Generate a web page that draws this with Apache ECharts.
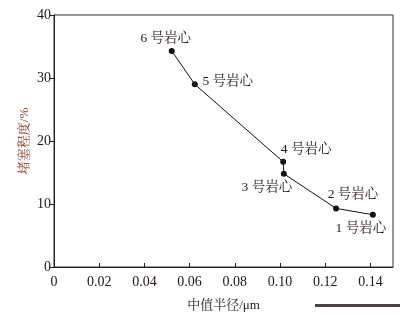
<!DOCTYPE html>
<html>
<head>
<meta charset="utf-8">
<script src="https://cdn.jsdelivr.net/npm/echarts@6/dist/echarts.min.js"></script>
<style>html,body{margin:0;padding:0;background:#fff;}#c{width:408px;height:317px;}</style>
</head>
<body>
<div id="c"></div>
<script>
var coreNames = ['1 号岩心', '2 号岩心', '3 号岩心', '4 号岩心', '5 号岩心', '6 号岩心'];
var medianRadius = [0.1411, 0.1248, 0.1017, 0.1014, 0.0623, 0.0521];
var blockage = [8.3, 9.3, 14.8, 16.7, 29.0, 34.3];
var xTicks = [0, 0.02, 0.04, 0.06, 0.08, 0.10, 0.12, 0.14];
var yTicks = [0, 10, 20, 30, 40];

var labelOffsets = {
  '1 号岩心': [-12, 14],
  '2 号岩心': [17, -14],
  '3 号岩心': [-17, 14],
  '4 号岩心': [23, -12],
  '5 号岩心': [33, -3],
  '6 号岩心': [-6, -12]
};

var FONT = "'Liberation Serif', 'Noto Serif CJK SC', 'Noto Sans CJK SC', serif";
var TXT = '#231815';

var data = medianRadius.map(function (x, i) {
  return {
    value: [x, blockage[i]],
    name: coreNames[i],
    label: { offset: labelOffsets[coreNames[i]] }
  };
});

var chart = echarts.init(document.getElementById('c'), null, { renderer: 'canvas' });
chart.setOption({
  animation: false,
  backgroundColor: '#fff',
  grid: { left: 54, top: 15, right: 15, bottom: 46, show: true, borderColor: '#333', borderWidth: 1, backgroundColor: 'transparent' },
  xAxis: {
    type: 'value', min: 0, max: 0.15, interval: 0.02,
    name: '中值半径/μm', nameLocation: 'middle', nameGap: 32, nameMoveOverlap: false,
    nameTextStyle: { fontFamily: FONT, fontSize: 13, color: TXT },
    axisLine: { show: true, lineStyle: { color: '#222', width: 1 } },
    axisTick: { show: true, inside: true, length: 4, lineStyle: { color: '#222' } },
    axisLabel: {
      fontFamily: FONT, fontSize: 14, color: TXT, margin: 8, showMaxLabel: false,
      formatter: function (v) {
        for (var i = 0; i < xTicks.length; i++) {
          if (Math.abs(v - xTicks[i]) < 1e-9) return xTicks[i] === 0 ? '0' : xTicks[i].toFixed(2);
        }
        return '';
      }
    },
    splitLine: { show: false }
  },
  yAxis: {
    type: 'value', min: yTicks[0], max: yTicks[yTicks.length - 1], interval: 10,
    name: '堵塞程度/%', nameLocation: 'middle', nameGap: 23, nameMoveOverlap: false,
    nameTextStyle: { fontFamily: FONT, fontSize: 13, color: '#8B3A26' },
    axisLine: { show: true, lineStyle: { color: '#222', width: 1 } },
    axisTick: { show: true, inside: false, length: 4, lineStyle: { color: '#222' } },
    axisLabel: { fontFamily: FONT, fontSize: 14, color: TXT, margin: 3 },
    splitLine: { show: false }
  },
  series: [{
    type: 'line',
    data: data,
    symbol: 'circle',
    symbolSize: 6,
    itemStyle: { color: '#111' },
    lineStyle: { color: '#111', width: 1 },
    label: {
      show: true, position: 'inside', align: 'center', verticalAlign: 'middle',
      formatter: '{b}', fontFamily: FONT, fontSize: 13.5, color: TXT
    }
  }],
  graphic: [{
    type: 'rect', left: 315, top: 304, shape: { width: 85, height: 3 },
    style: { fill: '#4a4446' }
  }]
});
</script>
</body>
</html>
